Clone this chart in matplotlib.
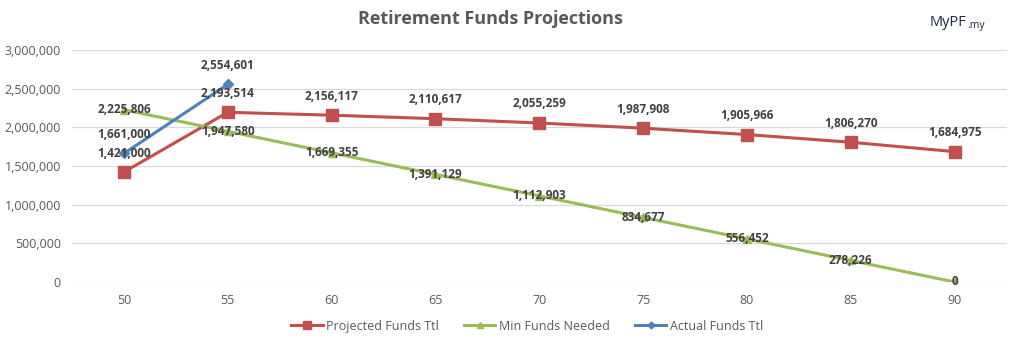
import matplotlib.pyplot as plt
from matplotlib.ticker import FuncFormatter

plt.rcParams['font.family'] = ['Open Sans', 'DejaVu Sans']

ages = ['50', '55', '60', '65', '70', '75', '80', '85', '90']
projected = [1421000, 2193514, 2156117, 2110617, 2055259, 1987908, 1905966, 1806270, 1684975]
min_needed = [2225806, 1947580, 1669355, 1391129, 1112903, 834677, 556452, 278226, 0]
actual = [1661000, 2554601]

red = '#C0504D'
green = '#9BBB59'
blue = '#4F81BD'
txt = '#595959'
lab = '#404040'

fig = plt.figure(figsize=(10.24, 3.49), dpi=100)
ax = fig.add_axes([0.0703, 0.192, 0.9127, 0.665])

x = list(range(len(ages)))
ax.plot(x, projected, color=red, lw=2.2, marker='s', ms=8, label='Projected Funds Ttl', zorder=3)
ax.plot(x, min_needed, color=green, lw=2.2, marker='^', ms=6, label='Min Funds Needed', zorder=3)
ax.plot(x[:len(actual)], actual, color=blue, lw=2.2, marker='D', ms=5, label='Actual Funds Ttl', zorder=4)

fmt = lambda v: f'{v:,.0f}'
for i, v in enumerate(projected):
    ax.annotate(fmt(v), (i, v), xytext=(0, 9), textcoords='offset points',
                ha='center', va='bottom', fontsize=8.5, fontweight='bold', color=lab, zorder=5)
for i, v in enumerate(min_needed):
    ax.annotate(fmt(v), (i, v), xytext=(0, 0), textcoords='offset points',
                ha='center', va='center', fontsize=8.5, fontweight='bold', color=lab, zorder=5)
for i, v in enumerate(actual):
    ax.annotate(fmt(v), (i, v), xytext=(0, 9), textcoords='offset points',
                ha='center', va='bottom', fontsize=8.5, fontweight='bold', color=lab, zorder=5)

ax.set_xlim(-0.5, len(ages) - 0.5)
ax.set_ylim(0, 3000000)
ax.set_yticks(range(0, 3000001, 500000))
ax.yaxis.set_major_formatter(FuncFormatter(lambda v, p: fmt(v)))
ax.set_xticks(x)
ax.set_xticklabels(ages)
ax.tick_params(axis='both', length=0, labelsize=9, colors=txt)
ax.tick_params(axis='x', pad=9)
ax.tick_params(axis='y', pad=8)
ax.grid(axis='y', color='#D9D9D9', lw=0.9)
ax.set_axisbelow(True)
for s in ax.spines.values():
    s.set_visible(False)

fig.text(0.4785, 0.945, 'Retirement Funds Projections', ha='center', va='center',
         fontsize=13, fontweight='bold', color=txt)
fig.text(0.908, 0.935, 'MyPF', ha='left', va='center', fontsize=10.5, color='#1F2A44')
fig.text(0.9445, 0.928, '.my', ha='left', va='center', fontsize=7.5, color='#1F2A44')

fig.legend(loc='center', bbox_to_anchor=(0.515, 0.065), ncol=3, frameon=False,
           fontsize=9, labelcolor=txt, handlelength=2.5, columnspacing=2.0, handletextpad=0.3,
           markerscale=0.7)

fig.savefig('out.png', dpi=100)
